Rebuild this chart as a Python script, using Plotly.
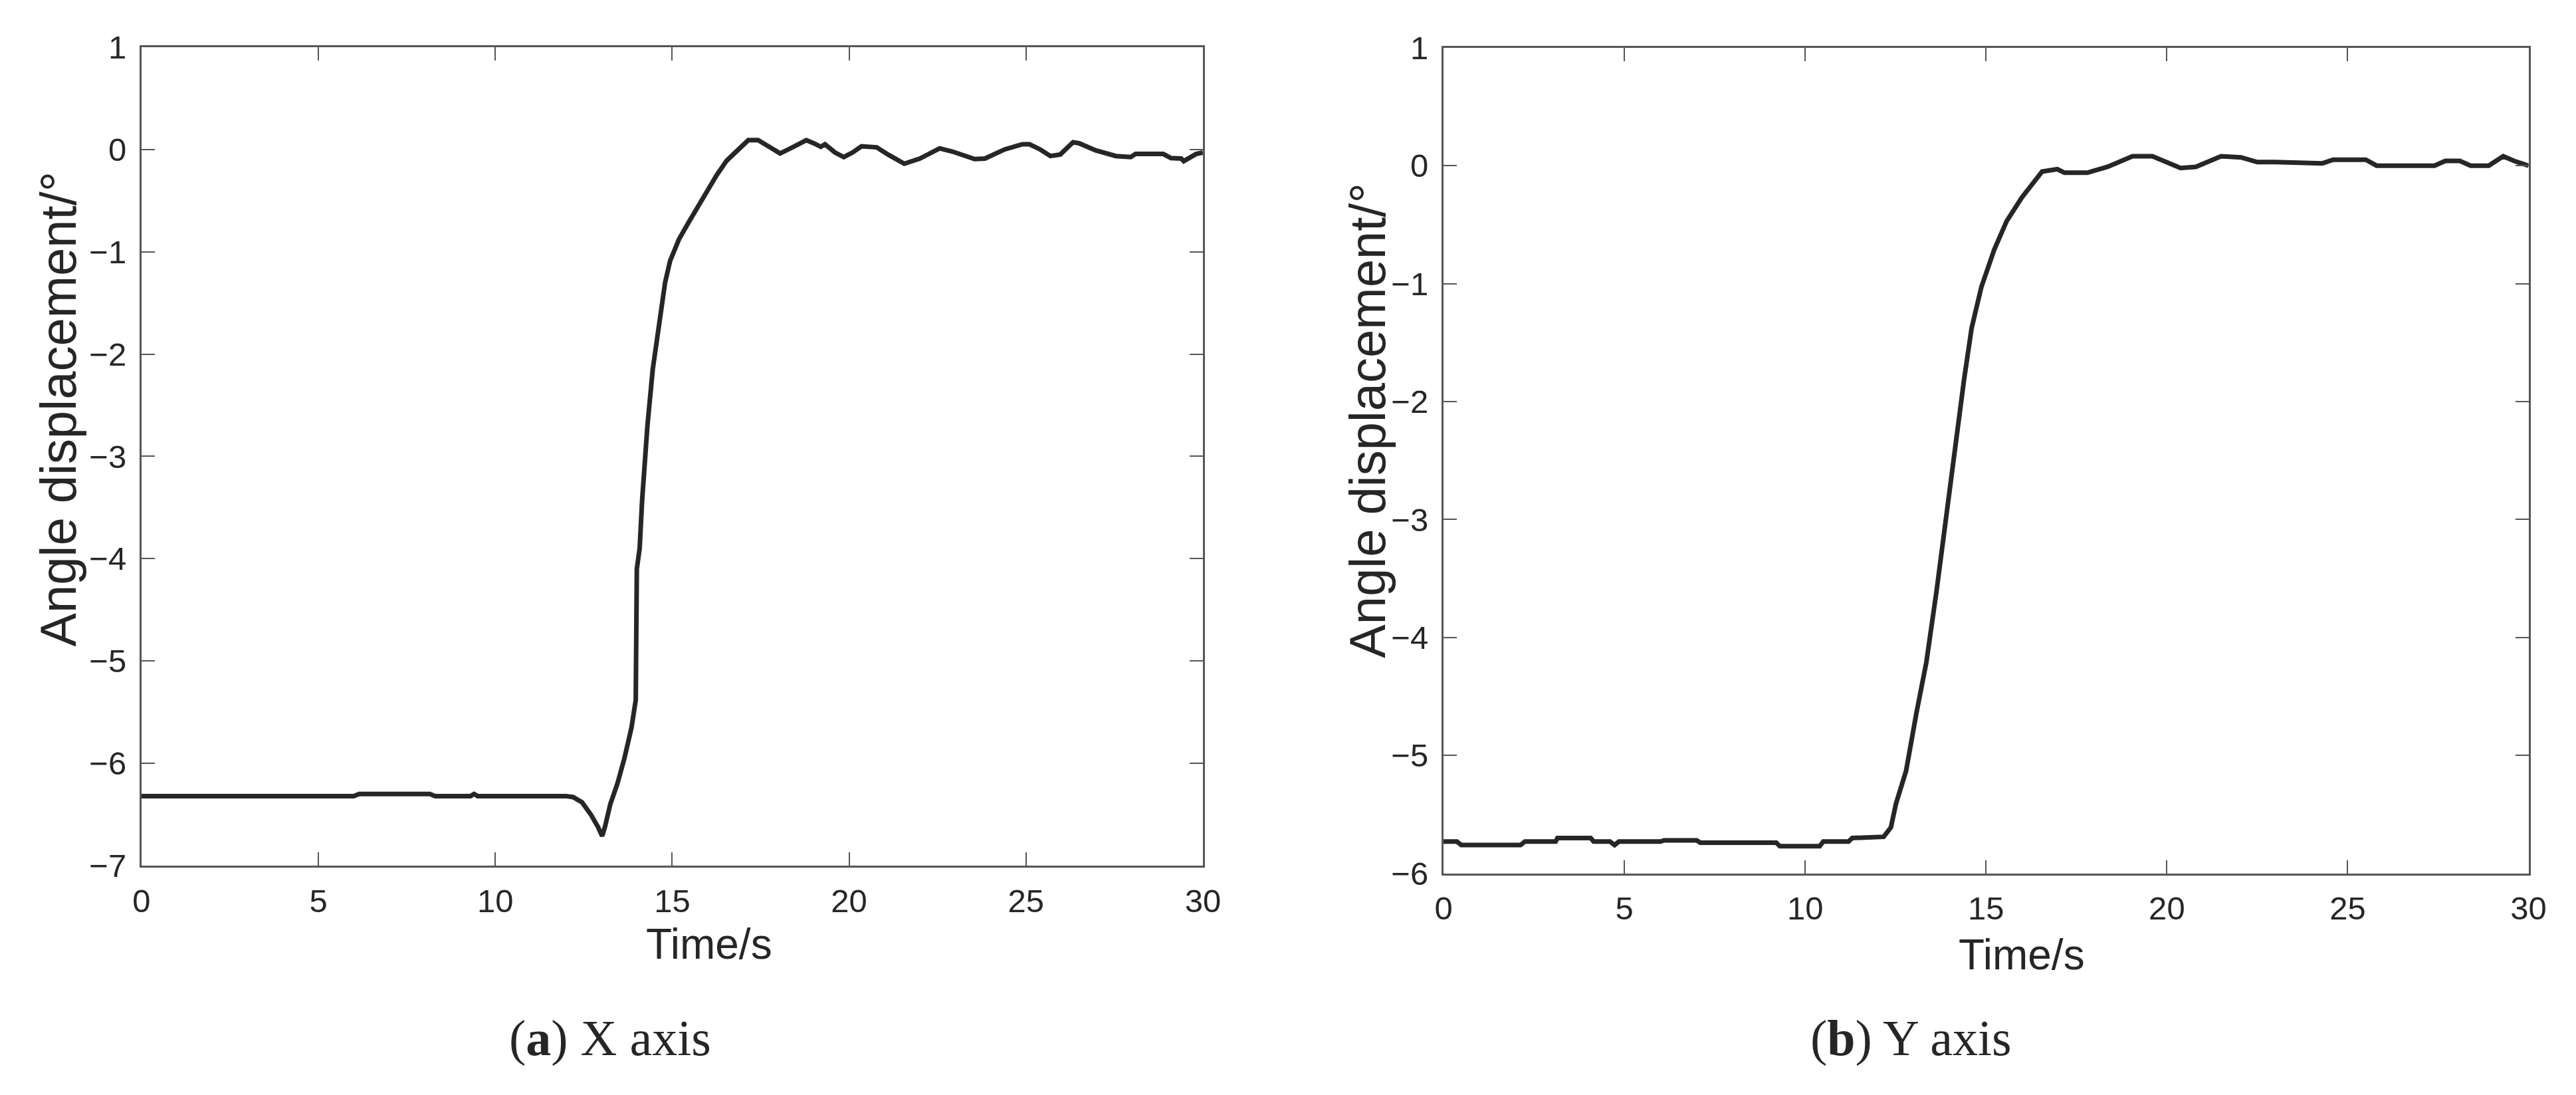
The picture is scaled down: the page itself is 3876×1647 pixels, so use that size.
import plotly.graph_objects as go

# ---- data ----
t_x = [0, 6.0, 6.15, 8.15, 8.3, 9.3, 9.4, 9.5, 12.0, 12.2, 12.45, 12.7, 12.9, 13.02,
       13.1, 13.25, 13.45, 13.65, 13.85, 13.97, 14.0, 14.08, 14.15, 14.3, 14.45, 14.55,
       14.69, 14.80, 14.94, 15.19, 15.47, 15.9, 16.26, 16.54, 16.9, 17.15, 17.43, 17.7,
       18.05, 18.4, 18.79, 19.0, 19.2, 19.32, 19.6, 19.85, 20.1, 20.35, 20.78, 21.1,
       21.56, 22.0, 22.56, 22.91, 23.2, 23.55, 23.84, 24.4, 24.9, 25.1, 25.4, 25.69,
       25.97, 26.33, 26.5, 26.97, 27.54, 27.96, 28.1, 28.88, 29.1, 29.39, 29.46, 29.81, 30.0]
ang_x = [-6.32, -6.32, -6.30, -6.30, -6.32, -6.32, -6.30, -6.32, -6.32, -6.33, -6.38,
         -6.50, -6.62, -6.71, -6.62, -6.40, -6.20, -5.95, -5.65, -5.38, -4.10, -3.90,
         -3.43, -2.70, -2.15, -1.90, -1.61, -1.30, -1.09, -0.88, -0.71, -0.46, -0.25,
         -0.11, 0.0, 0.09, 0.09, 0.03, -0.04, 0.02, 0.09, 0.06, 0.025, 0.05, -0.03,
         -0.075, -0.03, 0.03, 0.02, -0.05, -0.14, -0.09, 0.01, -0.02, -0.05, -0.095,
         -0.09, 0.0, 0.05, 0.05, 0.0, -0.065, -0.05, 0.07, 0.06, -0.01, -0.065, -0.075,
         -0.045, -0.045, -0.085, -0.09, -0.115, -0.045, -0.03]

t_y = [0, 0.37, 0.49, 2.13, 2.25, 3.1, 3.15, 4.07, 4.15, 4.6, 4.73, 4.85, 6.0, 6.1,
       7.0, 7.1, 9.2, 9.3, 10.4, 10.5, 11.2, 11.3, 12.17, 12.37, 12.51, 12.79, 13.07,
       13.35, 13.63, 13.84, 14.04, 14.18, 14.39, 14.6, 14.87, 15.23, 15.57, 15.99,
       16.55, 16.97, 17.17, 17.8, 18.36, 19.05, 19.6, 20.38, 20.8, 21.5, 22.05, 22.5,
       23.0, 24.3, 24.6, 25.5, 25.8, 27.4, 27.7, 28.1, 28.4, 28.9, 29.3, 29.6, 30.0]
ang_y = [-5.73, -5.73, -5.76, -5.76, -5.73, -5.73, -5.70, -5.70, -5.73, -5.73, -5.76,
         -5.73, -5.73, -5.72, -5.72, -5.74, -5.74, -5.77, -5.77, -5.73, -5.73, -5.70,
         -5.69, -5.61, -5.41, -5.13, -4.65, -4.21, -3.61, -3.10, -2.62, -2.26, -1.82,
         -1.38, -1.03, -0.71, -0.47, -0.27, -0.05, -0.03, -0.06, -0.06, -0.01, 0.08,
         0.08, -0.02, -0.01, 0.08, 0.07, 0.03, 0.03, 0.02, 0.05, 0.05, 0.0, 0.0, 0.04,
         0.04, 0.0, 0.0, 0.08, 0.04, 0.0]

x_ticks = [0, 5, 10, 15, 20, 25, 30]
y_ticks_a = [-7, -6, -5, -4, -3, -2, -1, 0, 1]
y_ticks_b = [-6, -5, -4, -3, -2, -1, 0, 1]

W, H = 3876, 1647
LINE = "#262626"
AXC = "#555555"
TXT = "#262626"
SANS = "Liberation Sans, Arial, sans-serif"
SERIF = "Liberation Serif, Times New Roman, serif"

fig = go.Figure()
fig.add_trace(go.Scatter(x=t_x, y=ang_x, mode="lines", xaxis="x", yaxis="y",
                         line=dict(color=LINE, width=7), showlegend=False))
fig.add_trace(go.Scatter(x=t_y, y=ang_y, mode="lines", xaxis="x2", yaxis="y2",
                         line=dict(color=LINE, width=7), showlegend=False))

axis_common = dict(showgrid=False, zeroline=False, showline=True, linecolor=AXC,
                   linewidth=3, mirror="ticks", ticks="inside", ticklen=20,
                   tickwidth=2, tickcolor=AXC,
                   tickfont=dict(family=SANS, size=49, color=TXT))

fig.update_layout(
    width=W, height=H, margin=dict(l=0, r=0, t=0, b=0),
    paper_bgcolor="white", plot_bgcolor="white",
    xaxis=dict(domain=[193 / W, 1807 / W], range=[0, 30], tickvals=x_ticks,
               anchor="y", ticklabelstandoff=8, **axis_common),
    yaxis=dict(domain=[(H - 1310) / H, (H - 37) / H], range=[-7, 1],
               tickvals=y_ticks_a, anchor="x", ticklabelstandoff=10, **axis_common),
    xaxis2=dict(domain=[2173 / W, 3823 / W], range=[0, 30], tickvals=x_ticks,
                anchor="y2", ticklabelstandoff=8, **axis_common),
    yaxis2=dict(domain=[(H - 1322) / H, (H - 38) / H], range=[-6, 1],
                tickvals=y_ticks_b, anchor="x2", ticklabelstandoff=10, **axis_common),
)

ann = [
    dict(text="Time/s", x=1056 / W, y=(H - 1432) / H, font=dict(family=SANS, size=64, color=TXT)),
    dict(text="Time/s", x=3052 / W, y=(H - 1448) / H, font=dict(family=SANS, size=64, color=TXT)),
    dict(text="Angle displacement/°", x=66 / W, y=(H - 600) / H, textangle=-90,
         font=dict(family=SANS, size=76, color=TXT)),
    dict(text="Angle displacement/°", x=2057 / W, y=(H - 618) / H, textangle=-90,
         font=dict(family=SANS, size=76, color=TXT)),
    dict(text="(<b>a</b>) X axis", x=906 / W, y=(H - 1578) / H,
         font=dict(family=SERIF, size=76, color=TXT)),
    dict(text="(<b>b</b>) Y axis", x=2884 / W, y=(H - 1578) / H,
         font=dict(family=SERIF, size=76, color=TXT)),
]
for a in ann:
    a.update(xref="paper", yref="paper", showarrow=False, xanchor="center", yanchor="middle")
fig.update_layout(annotations=ann)

fig.write_html("out.html")
